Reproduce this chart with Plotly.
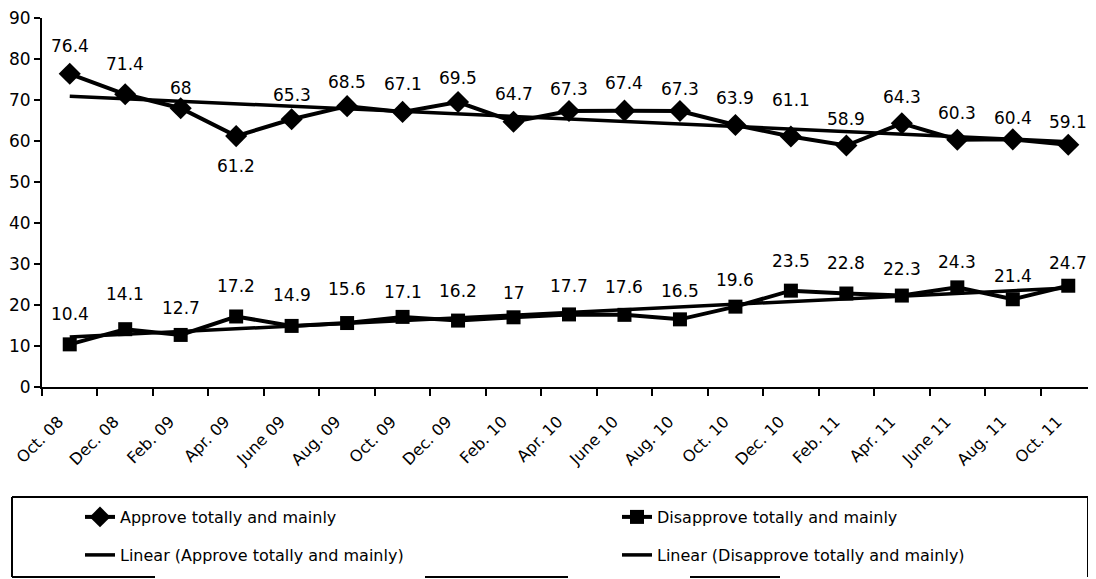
import numpy as np
import plotly.graph_objects as go

months = ["Oct. 08", "Dec. 08", "Feb. 09", "Apr. 09", "June 09", "Aug. 09", "Oct. 09",
          "Dec. 09", "Feb. 10", "Apr. 10", "June 10", "Aug. 10", "Oct. 10", "Dec. 10",
          "Feb. 11", "Apr. 11", "June 11", "Aug. 11", "Oct. 11"]
approve = [76.4, 71.4, 68, 61.2, 65.3, 68.5, 67.1, 69.5, 64.7, 67.3, 67.4, 67.3,
           63.9, 61.1, 58.9, 64.3, 60.3, 60.4, 59.1]
disapprove = [10.4, 14.1, 12.7, 17.2, 14.9, 15.6, 17.1, 16.2, 17, 17.7, 17.6, 16.5,
              19.6, 23.5, 22.8, 22.3, 24.3, 21.4, 24.7]
y_ticks = [0, 10, 20, 30, 40, 50, 60, 70, 80, 90]

# label offsets in pixels (style only)
approve_label_shift = [28, 30, 20, -30, 24, 24, 28, 24, 28, 22, 28, 22, 27, 36, 27, 26, 27, 21, 23]
disapprove_label_shift = [30, 35, 27, 30, 31, 34, 25, 30, 24, 28, 28, 28, 27, 30, 31, 27, 25, 23, 23]

# linear trendlines (least squares, like Excel "Linear" trendline)
idx = np.arange(len(months))
trend_approve = np.polyval(np.polyfit(idx, approve, 1), idx)
trend_disapprove = np.polyval(np.polyfit(idx, disapprove, 1), idx)

# the page places the figure 8px from the top-left corner (default body margin)
OFF = 8
W, H = 1096 - OFF, 579 - OFF
ML, MR, MT, MB = 42 - OFF, 0, 18 - OFF, 579 - 387
PW, PH = W - ML - MR, H - MT - MB
FONT = "DejaVu Sans"


def px(x):
    """window pixel x -> paper fraction"""
    return (x - OFF - ML) / PW


def py(y):
    """window pixel y -> paper fraction"""
    return (H - MB - (y - OFF)) / PH


fig = go.Figure()
fig.add_trace(go.Scatter(
    x=months, y=approve, mode="lines+markers", name="Approve totally and mainly",
    line=dict(color="black", width=4),
    marker=dict(symbol="diamond", size=17, color="black"),
    legend="legend"))
fig.add_trace(go.Scatter(
    x=months, y=disapprove, mode="lines+markers", name="Disapprove totally and mainly",
    line=dict(color="black", width=4),
    marker=dict(symbol="square", size=14, color="black"),
    legend="legend2"))
fig.add_trace(go.Scatter(
    x=months, y=trend_approve, mode="lines", name="Linear (Approve totally and mainly)",
    line=dict(color="black", width=3.5), legend="legend3"))
fig.add_trace(go.Scatter(
    x=months, y=trend_disapprove, mode="lines", name="Linear (Disapprove totally and mainly)",
    line=dict(color="black", width=3.5), legend="legend4"))

annotations = []
for m, v, s in zip(months, approve, approve_label_shift):
    annotations.append(dict(x=m, y=v, text=f"{v:g}", showarrow=False, yshift=s,
                            font=dict(family=FONT, size=17, color="black")))
for m, v, s in zip(months, disapprove, disapprove_label_shift):
    annotations.append(dict(x=m, y=v, text=f"{v:g}", showarrow=False, yshift=s,
                            font=dict(family=FONT, size=17, color="black")))

# legend frame (as drawn in the source)
shapes = []
box_l, box_t, box_r, box_b = 12, 497, 1088, 577
line_style = dict(color="black", width=2)
for (x0, y0, x1, y1) in [(box_l, box_t, box_r, box_t), (box_l, box_t, box_l, box_b),
                         (box_r, box_t, box_r, box_b),
                         (box_l, box_b, 155, box_b), (425, box_b, 568, box_b), (690, box_b, 780, box_b)]:
    shapes.append(dict(type="line", xref="paper", yref="paper",
                       x0=px(x0), y0=py(y0), x1=px(x1), y1=py(y1), line=line_style))
shapes.append(dict(type="line", xref="paper", yref="paper",
                   x0=px(1091), y0=py(500), x1=px(1091), y1=py(542),
                   line=dict(color="black", width=5)))


def legend_at(xpix, ypix):
    return dict(orientation="v", x=px(xpix), y=py(ypix), xanchor="left", yanchor="middle",
                itemwidth=30, font=dict(family=FONT, size=16, color="black"),
                bgcolor="rgba(0,0,0,0)", borderwidth=0)


fig.update_layout(
    width=W, height=H,
    margin=dict(l=ML, r=MR, t=MT, b=MB, autoexpand=False),
    paper_bgcolor="white", plot_bgcolor="white",
    font=dict(family=FONT, size=16, color="black"),
    showlegend=True,
    legend=legend_at(80, 517),
    legend2=legend_at(617, 517),
    legend3=legend_at(80, 555),
    legend4=legend_at(617, 555),
    annotations=annotations,
    shapes=shapes,
)
fig.update_xaxes(
    type="category", range=[-0.5, len(months) - 0.5],
    showline=True, linecolor="black", linewidth=2,
    ticks="outside", ticklen=7, tickwidth=2, tickcolor="black", tickson="boundaries",
    tickangle=-45, tickfont=dict(family=FONT, size=16, color="black"),
    showgrid=False, zeroline=False, ticklabelstandoff=17, ticklabelshift=-11,
    automargin=False, ticklabeloverflow="allow",
)
fig.update_yaxes(
    range=[0, 90], tickvals=y_ticks, showline=True, linecolor="black", linewidth=2,
    ticks="outside", ticklen=6, tickwidth=2, tickcolor="black",
    tickfont=dict(family=FONT, size=17, color="black"),
    showgrid=False, zeroline=False, automargin=False, ticklabeloverflow="allow",
)

fig.write_html("out.html", config={"displayModeBar": False})
